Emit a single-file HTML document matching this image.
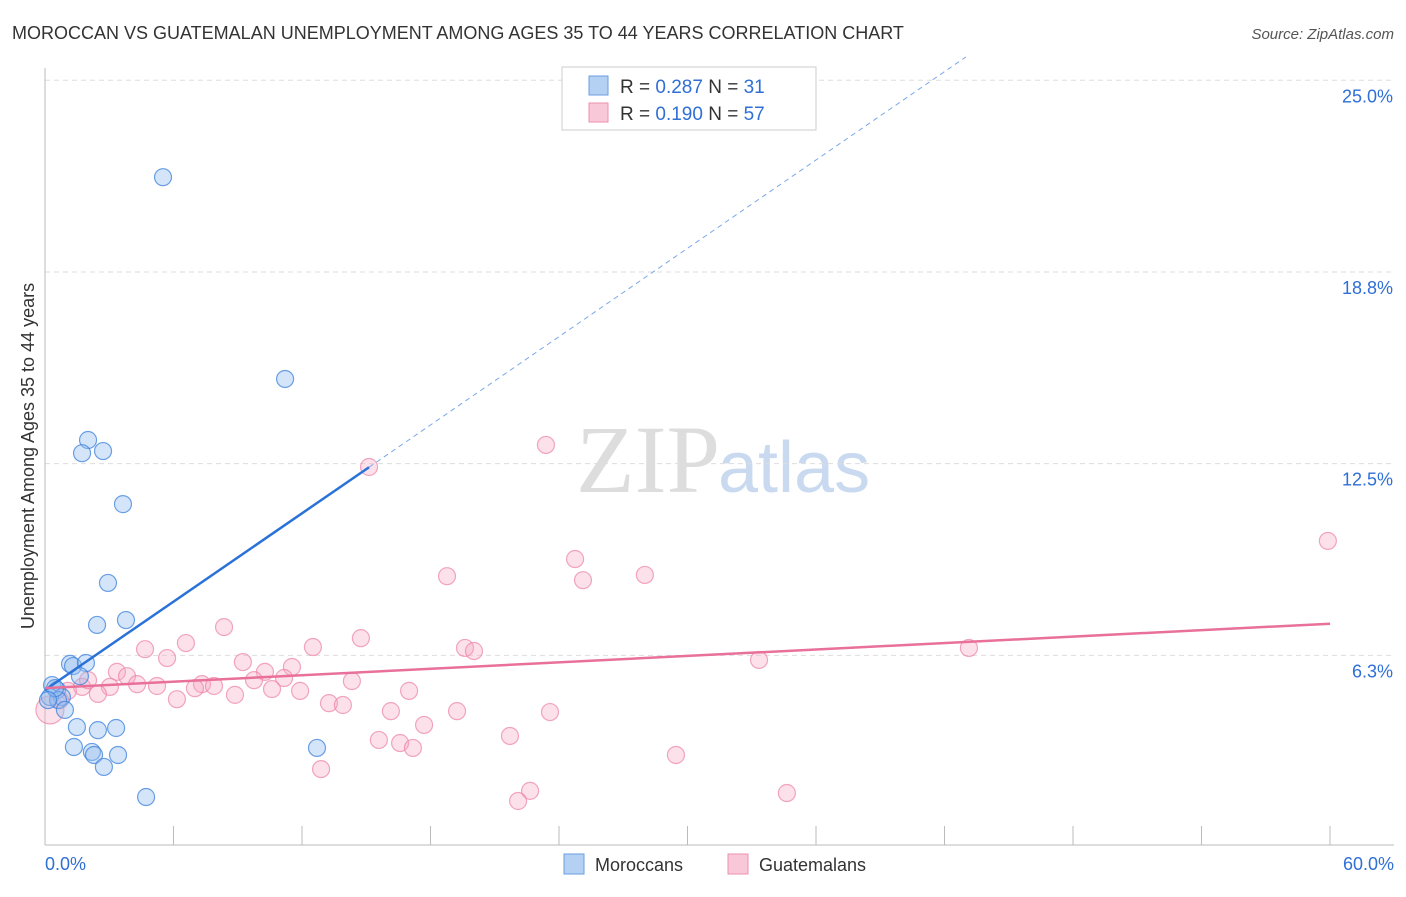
<!DOCTYPE html>
<html><head><meta charset="utf-8"><style>
body{margin:0;background:#fff;font-family:"Liberation Sans",sans-serif}
</style></head><body>
<svg width="1406" height="892" viewBox="0 0 1406 892" xmlns="http://www.w3.org/2000/svg">
<text x="12" y="39" font-size="18" fill="#333">MOROCCAN VS GUATEMALAN UNEMPLOYMENT AMONG AGES 35 TO 44 YEARS CORRELATION CHART</text>
<text x="1394" y="39" font-size="15" fill="#555" font-style="italic" text-anchor="end">Source: ZipAtlas.com</text>
<text x="720" y="492" font-size="96" fill="#ddd" text-anchor="end" font-family="Liberation Serif,serif">ZIP</text>
<text x="718" y="492" font-size="72" fill="#c9daf0">atlas</text>
<g id="grid"></g><g id="axes"></g><g id="marks"></g>
<text transform="translate(34,456) rotate(-90)" font-size="18" fill="#333" text-anchor="middle">Unemployment Among Ages 35 to 44 years</text>
<g>
<rect x="562" y="67" width="254" height="63" fill="#fff" stroke="#ccc"/>
<rect x="589" y="76" width="19" height="19" fill="#b4d0f3" stroke="#6a9ee0"/>
<rect x="589" y="103" width="19" height="19" fill="#f9c8d8" stroke="#ee91ad"/>
<text x="620" y="93" font-size="19" fill="#333">R = <tspan fill="#2f6fd6">0.287</tspan>   N = <tspan fill="#2f6fd6">31</tspan></text>
<text x="620" y="120" font-size="19" fill="#333">R = <tspan fill="#2f6fd6">0.190</tspan>   N = <tspan fill="#2f6fd6">57</tspan></text>
</g>
<g>
<rect x="564" y="854" width="20" height="20" fill="#b4d0f3" stroke="#6a9ee0"/>
<text x="595" y="871" font-size="18" fill="#333">Moroccans</text>
<rect x="728" y="854" width="20" height="20" fill="#f9c8d8" stroke="#ee91ad"/>
<text x="759" y="871" font-size="18" fill="#333">Guatemalans</text>
</g>
</svg>
<script>
const yTicks=[6.25,12.5,18.75,25];
const yTickLabels=["6.3%","12.5%","18.8%","25.0%"];
const xTicks=[0,6,12,18,24,30,36,42,48,54,60];
const moroccansX=[5.51,11.21,2.01,1.73,2.71,3.64,2.94,3.78,2.43,1.17,1.31,1.91,1.63,0.33,0.56,0.23,0.79,0.61,0.93,1.49,2.47,3.32,1.35,2.19,2.29,3.41,2.75,4.72,12.70,0.47,0.14];
const moroccansY=[21.84,15.26,13.27,12.84,12.91,11.18,8.61,7.40,7.24,5.97,5.90,6.00,5.57,5.28,5.12,4.89,4.89,4.79,4.47,3.91,3.81,3.88,3.26,3.10,3.00,3.00,2.61,1.63,3.23,5.18,4.79];
const guatemalansX=[15.13,23.39,59.90,24.75,25.12,18.77,28.01,8.36,6.58,4.67,5.70,12.51,14.75,19.61,20.03,43.14,33.34,9.24,10.27,11.53,11.16,9.76,3.36,3.83,4.30,5.23,7.33,7.89,7.00,3.03,1.73,2.47,1.07,10.60,11.91,14.33,17.00,8.87,6.16,13.26,13.91,16.15,19.24,23.58,17.70,15.59,16.58,17.18,21.71,29.46,12.89,22.65,22.09,34.64,0.23,0.70,2.01];
const guatemalansY=[12.39,13.11,9.98,9.39,8.70,8.83,8.87,7.17,6.65,6.45,6.16,6.52,6.81,6.49,6.39,6.49,6.10,6.03,5.71,5.87,5.51,5.44,5.71,5.57,5.31,5.25,5.31,5.25,5.18,5.22,5.22,4.99,5.09,5.15,5.09,5.41,5.09,4.96,4.82,4.69,4.63,4.43,4.43,4.40,3.98,3.49,3.39,3.23,3.62,3.00,2.54,1.83,1.50,1.76,4.47,4.79,5.44];
const blueTrend=[5.12,0.48];
const pinkTrend=[5.18,0.035];
const NS="http://www.w3.org/2000/svg";
const X=v=>45+v/60*1285, Y=v=>847-v*30.67;
function mk(tag,attrs,parent){const e=document.createElementNS(NS,tag);for(const k in attrs)e.setAttribute(k,attrs[k]);document.getElementById(parent).appendChild(e);return e;}
yTicks.forEach((t,i)=>{
 const g=mk('line',{x1:45,x2:1394,y1:Y(t),y2:Y(t),stroke:'#ddd','stroke-dasharray':'5,4'},'grid');
 
 
 const tx=mk('text',{x:1393,y:Y(t)+22,'font-size':18,fill:'#2f6fd6','text-anchor':'end'},'grid');
 tx.textContent=yTickLabels[i];
 
 
});
const ax=mk('line',{x1:45,x2:45,y1:68,y2:845,stroke:'#bbb'},'axes');


const bx=mk('line',{x1:45,x2:1394,y1:845,y2:845,stroke:'#bbb'},'axes');


xTicks.forEach(t=>{
 const l=mk('line',{x1:X(t),x2:X(t),y1:826,y2:845,stroke:'#bbb'},'axes');
 
 
});
const xl0=mk('text',{x:45,y:870,'font-size':18,fill:'#2f6fd6'},'axes');xl0.textContent='0.0%';


const xl1=mk('text',{x:1394,y:870,'font-size':18,fill:'#2f6fd6','text-anchor':'end'},'axes');xl1.textContent='60.0%';


guatemalansX.forEach((x,i)=>{
 const c=mk('circle',{cx:X(x),cy:Y(guatemalansY[i]),r:i==54?14:8.5,fill:'rgba(246,170,195,0.35)',stroke:'rgba(236,130,165,0.7)','stroke-width':1.2},'marks');
 
 
});
moroccansX.forEach((x,i)=>{
 const c=mk('circle',{cx:X(x),cy:Y(moroccansY[i]),r:8.5,fill:'rgba(150,190,240,0.4)',stroke:'rgba(60,130,220,0.75)','stroke-width':1.2},'marks');
 
 
});
const bl=mk('line',{x1:X(0),y1:Y(blueTrend[0]),x2:X(15.13),y2:Y(blueTrend[0]+blueTrend[1]*15.13),stroke:'#2a72d8','stroke-width':2.5},'marks');


const bd=mk('line',{x1:X(15.13),y1:Y(blueTrend[0]+blueTrend[1]*15.13),x2:X(43),y2:Y(blueTrend[0]+blueTrend[1]*43),stroke:'#7aa8e8','stroke-width':1,'stroke-dasharray':'5,4'},'marks');


const pl=mk('line',{x1:X(0),y1:Y(pinkTrend[0]),x2:X(60),y2:Y(pinkTrend[0]+pinkTrend[1]*60),stroke:'#e8709a','stroke-width':2.5},'marks');


</script>
</body></html>
